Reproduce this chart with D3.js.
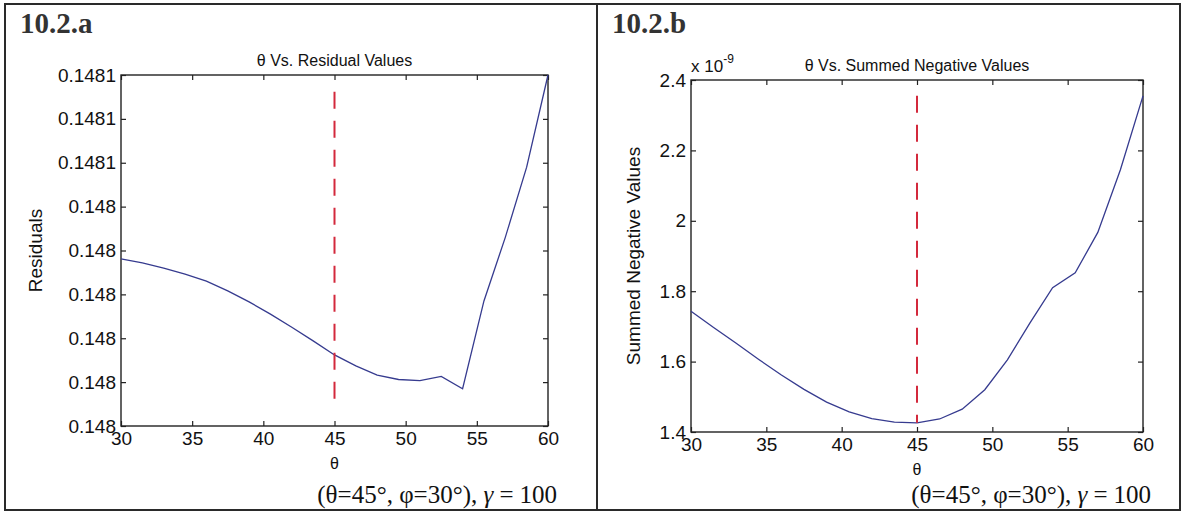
<!DOCTYPE html>
<html>
<head>
<meta charset="utf-8">
<script src="https://cdn.jsdelivr.net/npm/d3@7"></script>
<style>
  body { margin: 0; background: #fff; }
  svg { display: block; }
  .tick text { font-family: "Liberation Sans", Arial, sans-serif; }
</style>
</head>
<body>
<svg id="chart" width="1182" height="515"></svg>
<script>
// Sweep of the polar angle (degrees)
const theta = [30, 31.5, 33, 34.5, 36, 37.5, 39, 40.5, 42, 43.5, 45,
               46.5, 48, 49.5, 51, 52.5, 54, 55.5, 57, 58.5, 60];

// 10.2.a: residual of the fit at each angle
const residuals = [0.1480281, 0.1480272, 0.1480260, 0.1480246, 0.1480230,
                   0.1480208, 0.1480183, 0.1480155, 0.1480125, 0.1480094,
                   0.1480062, 0.1480037, 0.1480016, 0.1480006, 0.14800035,
                   0.1480013, 0.1479985, 0.1480185, 0.1480330, 0.1480490,
                   0.1480700];

// 10.2.b: summed negative values at each angle
const summedNegative = [1.743e-9, 1.697e-9, 1.652e-9, 1.606e-9, 1.562e-9,
                        1.521e-9, 1.485e-9, 1.457e-9, 1.438e-9, 1.428e-9,
                        1.426e-9, 1.437e-9, 1.465e-9, 1.520e-9, 1.605e-9,
                        1.710e-9, 1.810e-9, 1.852e-9, 1.967e-9, 2.145e-9,
                        2.355e-9];

const thetaTicks = [30, 35, 40, 45, 50, 55, 60];

const residualTicks = [0.14799, 0.14800, 0.14801, 0.14802, 0.14803,
                       0.14804, 0.14805, 0.14806, 0.14807];
const residualTickLabels = ["0.148", "0.148", "0.148", "0.148", "0.148",
                            "0.148", "0.1481", "0.1481", "0.1481"];

const summedTicks = [1.4e-9, 1.6e-9, 1.8e-9, 2.0e-9, 2.2e-9, 2.4e-9];
const summedTickLabels = ["1.4", "1.6", "1.8", "2", "2.2", "2.4"];

// True angle marker
const markerTheta = 45;
const residualMarkerSpan = [0.1480662, 0.1479938];
const summedMarkerSpan = [d3.max(summedNegative), d3.min(summedNegative)];

const svg = d3.select("#chart");
const SANS = '"Liberation Sans", Arial, Helvetica, sans-serif';
const SERIF = '"Liberation Serif", "Times New Roman", serif';
const LINE = "#363b8f";
const MARK = "#d3293c";

// outer frame and divider
svg.append("rect").attr("x", 5).attr("y", 4).attr("width", 1175).attr("height", 506)
  .attr("fill", "none").attr("stroke", "#2a2a2a").attr("stroke-width", 2);
svg.append("line").attr("x1", 597).attr("x2", 597).attr("y1", 4).attr("y2", 510)
  .attr("stroke", "#2a2a2a").attr("stroke-width", 2);

function drawPanel(p) {
  const x = d3.scaleLinear().domain([30, 60]).range([p.left, p.right]);
  const y = d3.scaleLinear().domain(p.yDomain).range([p.bottom, p.top]);
  const g = svg.append("g");

  const fmtIdx = v => p.yLabels[p.yTicks.indexOf(v)];

  // bottom axis with labels
  g.append("g").attr("transform", `translate(0,${p.bottom})`)
    .call(d3.axisBottom(x).tickValues(thetaTicks).tickSizeInner(-5).tickSizeOuter(0).tickPadding(6))
    .call(a => a.selectAll("text").attr("font-size", 19).attr("fill", "#111"));
  // top axis ticks
  g.append("g").attr("transform", `translate(0,${p.top})`)
    .call(d3.axisTop(x).tickValues(thetaTicks).tickSizeInner(-5).tickSizeOuter(0).tickFormat(""));
  // left axis with labels
  g.append("g").attr("transform", `translate(${p.left},0)`)
    .call(d3.axisLeft(y).tickValues(p.yTicks).tickSizeInner(-5).tickSizeOuter(0).tickPadding(5)
      .tickFormat(fmtIdx))
    .call(a => a.selectAll("text").attr("font-size", 19).attr("fill", "#111"));
  // right axis ticks
  g.append("g").attr("transform", `translate(${p.right},0)`)
    .call(d3.axisRight(y).tickValues(p.yTicks).tickSizeInner(-5).tickSizeOuter(0).tickFormat(""));

  g.selectAll(".domain").remove();
  g.selectAll(".tick line").attr("stroke", "#222").attr("stroke-width", 1.2);

  // plot box
  g.append("rect").attr("x", p.left).attr("y", p.top)
    .attr("width", p.right - p.left).attr("height", p.bottom - p.top)
    .attr("fill", "none").attr("stroke", "#222").attr("stroke-width", 1.4);

  // data curve
  const line = d3.line().x((d, i) => x(theta[i])).y(d => y(d));
  g.append("path").datum(p.values).attr("d", line)
    .attr("fill", "none").attr("stroke", LINE).attr("stroke-width", 1.3);

  // dashed marker at the true angle
  g.append("path").datum(p.marker)
    .attr("d", d3.line().x(() => x(markerTheta)).y(d => y(d)))
    .attr("fill", "none").attr("stroke", MARK).attr("stroke-width", 2)
    .attr("stroke-dasharray", "17,12");

  // title
  g.append("text").attr("x", (p.left + p.right) / 2).attr("y", p.top - 9)
    .attr("text-anchor", "middle").attr("font-family", SANS).attr("font-size", 16)
    .attr("fill", "#111").text(p.title);

  // x label
  g.append("text").attr("x", x(45)).attr("y", p.bottom + 43)
    .attr("text-anchor", "middle").attr("font-family", SANS).attr("font-size", 16)
    .attr("fill", "#111").text("θ");

  // y label
  g.append("text")
    .attr("transform", `translate(${p.yLabelX},${(p.top + p.bottom) / 2}) rotate(-90)`)
    .attr("text-anchor", "middle").attr("font-family", SANS).attr("font-size", 19)
    .attr("fill", "#111").text(p.yLabel);

  // panel tag
  g.append("text").attr("x", p.tagX).attr("y", 33)
    .attr("font-family", SERIF).attr("font-weight", "bold").attr("font-size", 29)
    .attr("fill", "#333").text(p.tag);

  // case annotation
  const note = g.append("text").attr("x", p.noteX).attr("y", 503)
    .attr("text-anchor", "end").attr("font-family", SERIF).attr("font-size", 25)
    .attr("fill", "#111");
  note.append("tspan").text("(θ=45°, φ=30°), ");
  note.append("tspan").attr("font-style", "italic").text("γ");
  note.append("tspan").attr("dx", 6).text("=");
  note.append("tspan").attr("dx", 6).text("100");

  if (p.exponent) {
    const ex = g.append("text").attr("x", p.left).attr("y", p.top - 8)
      .attr("font-family", SANS).attr("font-size", 17).attr("fill", "#111");
    ex.append("tspan").text("x 10");
    ex.append("tspan").attr("dy", -9).attr("font-size", 12).text(p.exponent);
  }
}

drawPanel({
  left: 121, right: 548, top: 75, bottom: 426,
  yDomain: [0.14799, 0.14807], yTicks: residualTicks, yLabels: residualTickLabels,
  values: residuals, marker: residualMarkerSpan,
  title: "θ Vs. Residual Values", yLabel: "Residuals", yLabelX: 42,
  tag: "10.2.a", tagX: 20, noteX: 557
});

drawPanel({
  left: 691, right: 1143, top: 80, bottom: 432,
  yDomain: [1.4e-9, 2.4e-9], yTicks: summedTicks, yLabels: summedTickLabels,
  values: summedNegative, marker: summedMarkerSpan,
  title: "θ Vs. Summed Negative Values", yLabel: "Summed Negative Values", yLabelX: 640,
  tag: "10.2.b", tagX: 612, noteX: 1151, exponent: "-9"
});
</script>
</body>
</html>
